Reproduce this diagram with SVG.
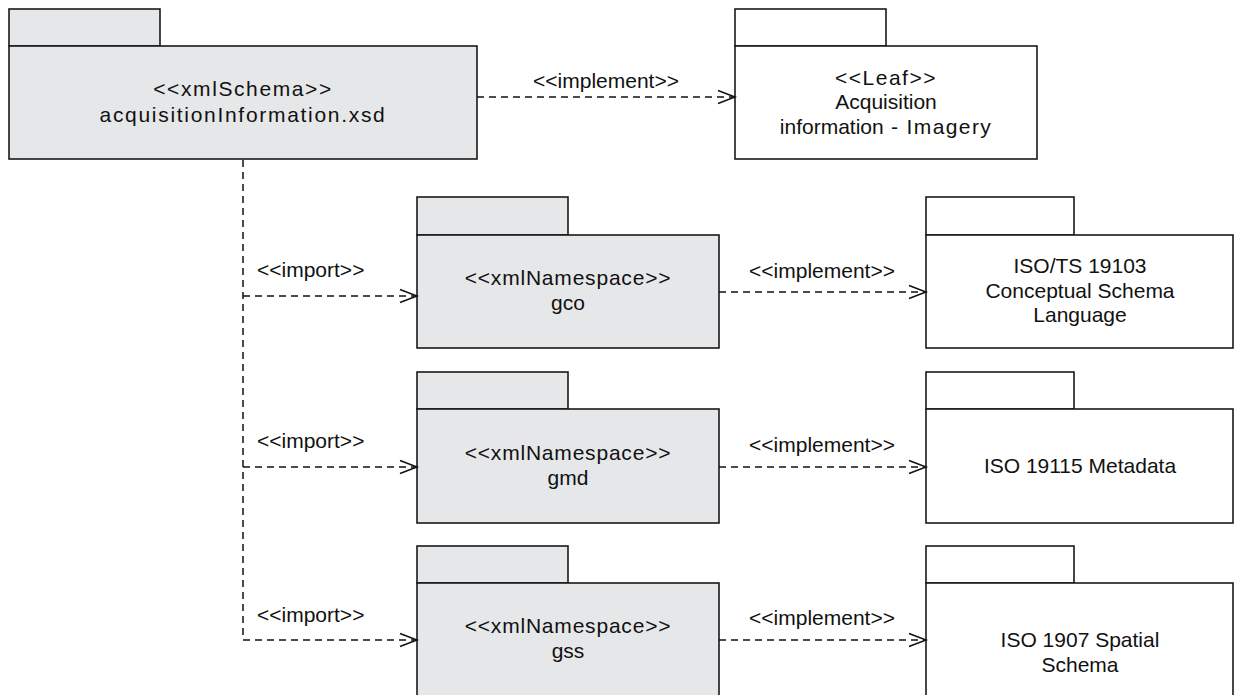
<svg xmlns="http://www.w3.org/2000/svg" width="1235" height="695" viewBox="0 0 1235 695">
<style>
.g{fill:#e6e7e9;stroke:#1a1a1a;stroke-width:1.6}
.w{fill:#fff;stroke:#1a1a1a;stroke-width:1.6}
text{font-family:"Liberation Sans",Arial,sans-serif;font-size:21px;fill:#111}
.c{text-anchor:middle}
.d{fill:none;stroke:#111;stroke-width:1.5;stroke-dasharray:7 5}
.ah{fill:none;stroke:#111;stroke-width:1.5}
</style>
<rect width="1235" height="695" fill="#fff"/>
<g id="schema">
<rect class="g" x="9" y="9" width="151" height="37"/>
<rect class="g" x="9" y="46" width="468" height="113"/>
<text class="c" x="243" y="96" letter-spacing="1.6">&lt;&lt;xmlSchema&gt;&gt;</text>
<text class="c" x="243" y="122" letter-spacing="1.7">acquisitionInformation.xsd</text>
</g>
<g id="leaf">
<rect class="w" x="735" y="9" width="151" height="37"/>
<rect class="w" x="735" y="46" width="302" height="113"/>
<text class="c" x="886" y="85" letter-spacing="1.5">&lt;&lt;Leaf&gt;&gt;</text>
<text class="c" x="886" y="109">Acquisition</text>
<text class="c" x="886" y="134">information<tspan letter-spacing="1.4"> - Imagery</tspan></text>
</g>
<g id="gco">
<rect class="g" x="417" y="197" width="151" height="38"/>
<rect class="g" x="417" y="235" width="302" height="113"/>
<text class="c" x="568" y="285" letter-spacing="0.8">&lt;&lt;xmlNamespace&gt;&gt;</text>
<text class="c" x="568" y="310">gco</text>
</g>
<g id="iso19103">
<rect class="w" x="926" y="197" width="148" height="38"/>
<rect class="w" x="926" y="235" width="307" height="113"/>
<text class="c" x="1080" y="273">ISO/TS 19103</text>
<text class="c" x="1080" y="298">Conceptual Schema</text>
<text class="c" x="1080" y="322">Language</text>
</g>
<g id="gmd">
<rect class="g" x="417" y="372" width="151" height="37"/>
<rect class="g" x="417" y="409" width="302" height="114"/>
<text class="c" x="568" y="460" letter-spacing="0.8">&lt;&lt;xmlNamespace&gt;&gt;</text>
<text class="c" x="568" y="485">gmd</text>
</g>
<g id="iso19115">
<rect class="w" x="926" y="372" width="148" height="37"/>
<rect class="w" x="926" y="409" width="307" height="114"/>
<text class="c" x="1080" y="473">ISO 19115 Metadata</text>
</g>
<g id="gss">
<rect class="g" x="417" y="546" width="151" height="37"/>
<rect class="g" x="417" y="583" width="302" height="125"/>
<text class="c" x="568" y="633" letter-spacing="0.8">&lt;&lt;xmlNamespace&gt;&gt;</text>
<text class="c" x="568" y="658">gss</text>
</g>
<g id="iso1907">
<rect class="w" x="926" y="546" width="148" height="37"/>
<rect class="w" x="926" y="583" width="307" height="125"/>
<text class="c" x="1080" y="647">ISO 1907 Spatial</text>
<text class="c" x="1080" y="672">Schema</text>
</g>
<g id="connectors">
<path class="d" d="M477 97H734"/>
<path class="ah" d="M718 90.5L735 97L718 103.5"/>
<text class="c" x="606" y="88">&lt;&lt;implement&gt;&gt;</text>
<path class="d" d="M243 160V640"/>
<path class="d" d="M243 296H416"/>
<path class="ah" d="M400 289.5L417 296L400 302.5"/>
<text x="257" y="277">&lt;&lt;import&gt;&gt;</text>
<path class="d" d="M243 467H416"/>
<path class="ah" d="M400 460.5L417 467L400 473.5"/>
<text x="257" y="448">&lt;&lt;import&gt;&gt;</text>
<path class="d" d="M243 640H416"/>
<path class="ah" d="M400 633.5L417 640L400 646.5"/>
<text x="257" y="622">&lt;&lt;import&gt;&gt;</text>
<path class="d" d="M719 292H925"/>
<path class="ah" d="M909 285.5L926 292L909 298.5"/>
<text class="c" x="822" y="278">&lt;&lt;implement&gt;&gt;</text>
<path class="d" d="M719 467H925"/>
<path class="ah" d="M909 460.5L926 467L909 473.5"/>
<text class="c" x="822" y="452">&lt;&lt;implement&gt;&gt;</text>
<path class="d" d="M719 640H925"/>
<path class="ah" d="M909 633.5L926 640L909 646.5"/>
<text class="c" x="822" y="625">&lt;&lt;implement&gt;&gt;</text>
</g>
</svg>
